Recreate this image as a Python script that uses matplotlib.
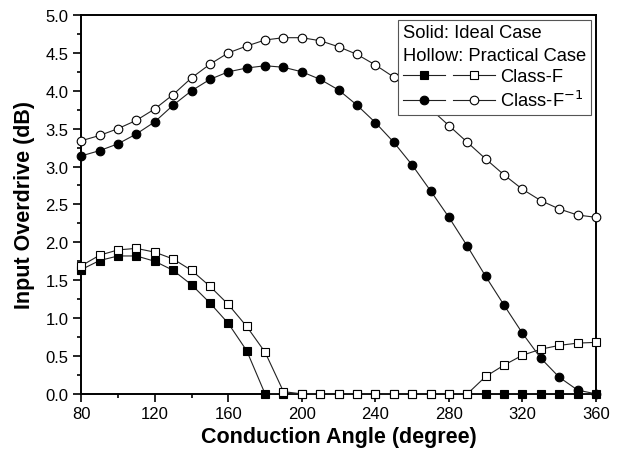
import matplotlib
matplotlib.use("Agg")
import matplotlib.pyplot as plt
import numpy as np
from matplotlib.legend_handler import HandlerTuple
from matplotlib.ticker import MultipleLocator

plt.rcParams['font.family'] = ['Liberation Sans', 'DejaVu Sans']

angle = np.arange(80, 361, 10)

# Class-F, ideal (solid) and practical (hollow)
f_ideal = [1.64, 1.76, 1.82, 1.82, 1.75, 1.63, 1.44, 1.20, 0.93, 0.57,
           0, 0, 0, 0, 0, 0, 0, 0, 0, 0,
           0, 0, 0, 0, 0, 0, 0, 0, 0]
f_pract = [1.69, 1.83, 1.90, 1.92, 1.87, 1.78, 1.63, 1.42, 1.18, 0.89,
           0.55, 0.03, 0, 0, 0, 0, 0, 0, 0, 0,
           0, 0, 0.23, 0.38, 0.51, 0.59, 0.64, 0.67, 0.68]

# Class-F^-1, ideal (solid) and practical (hollow)
finv_ideal = [3.14, 3.21, 3.30, 3.43, 3.59, 3.81, 4.00, 4.15, 4.25, 4.30,
              4.33, 4.31, 4.25, 4.15, 4.01, 3.81, 3.58, 3.32, 3.02, 2.68,
              2.33, 1.95, 1.55, 1.17, 0.80, 0.47, 0.22, 0.05, 0.0]
finv_pract = [3.34, 3.41, 3.50, 3.61, 3.76, 3.95, 4.17, 4.35, 4.50, 4.59,
              4.67, 4.70, 4.70, 4.66, 4.58, 4.48, 4.34, 4.18, 3.98, 3.76,
              3.54, 3.32, 3.10, 2.89, 2.70, 2.55, 2.44, 2.36, 2.33]

fig = plt.figure(figsize=(6.25, 4.56), dpi=100)
ax = fig.add_axes([0.13, 0.134, 0.8236, 0.831])

kw = dict(color='#222222', lw=0.8, mec='black', mew=0.8, clip_on=False)
l1, = ax.plot(angle, f_ideal, marker='s', ms=5.3, mfc='black', zorder=3, **kw)
l2, = ax.plot(angle, f_pract, marker='s', ms=5.3, mfc='white', zorder=4, **kw)
l3, = ax.plot(angle, finv_ideal, marker='o', ms=6.2, mfc='black', zorder=5, **kw)
l4, = ax.plot(angle, finv_pract, marker='o', ms=6.2, mfc='white', zorder=6, **kw)

ax.set_xlim(80, 360)
ax.set_ylim(0, 5.0)
ax.xaxis.set_major_locator(MultipleLocator(40))
ax.xaxis.set_minor_locator(MultipleLocator(20))
ax.yaxis.set_major_locator(MultipleLocator(0.5))
ax.yaxis.set_minor_locator(MultipleLocator(0.25))
ax.yaxis.set_major_formatter(plt.FormatStrFormatter('%.1f'))
ax.tick_params(which='major', length=6, width=1.2, labelsize=12, direction='out', pad=3)
ax.tick_params(which='minor', length=3, width=1.2, direction='out')
for s in ax.spines.values():
    s.set_linewidth(1.4)

ax.set_xlabel('Conduction Angle (degree)', fontsize=15.5, fontweight='bold', labelpad=3)
ax.set_ylabel('Input Overdrive (dB)', fontsize=15.5, fontweight='bold', labelpad=8)

leg = ax.legend([(l1, l2), (l3, l4)], ['Class-F', 'Class-F$^{-1}$'],
                handler_map={tuple: HandlerTuple(ndivide=None, pad=0.4)},
                title='Solid: Ideal Case\nHollow: Practical Case',
                alignment='left', loc='upper right', bbox_to_anchor=(0.99, 0.987),
                borderaxespad=0, fontsize=13.2, title_fontsize=13.2, handlelength=5.0,
                handletextpad=0.3, borderpad=0.25, labelspacing=0.25,
                fancybox=False, edgecolor='#555555', framealpha=1)
leg.get_title().set_linespacing(1.4)
leg.get_frame().set_linewidth(0.8)
leg.set_zorder(10)

fig.savefig('out.png', dpi=100)
